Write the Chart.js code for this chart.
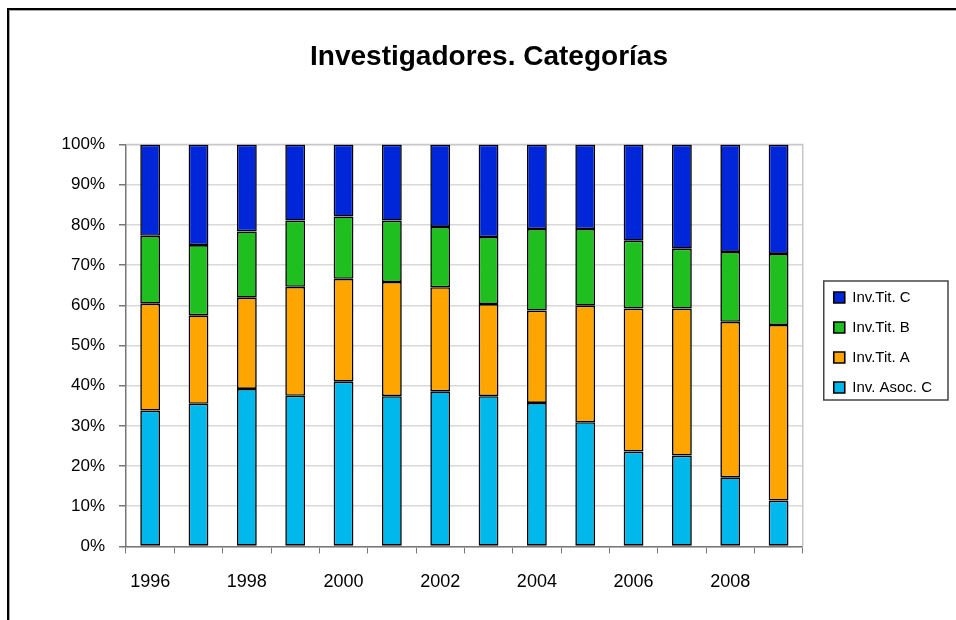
<!DOCTYPE html>
<html>
<head>
<meta charset="utf-8">
<script src="https://cdn.jsdelivr.net/npm/chart.js@4"></script>
<style>
  body { margin: 0; background: #fff; }
  #wrap { position: relative; width: 956px; height: 620px; overflow: hidden; }
  #marco { position: absolute; left: 7px; top: 8px; width: 960px; height: 700px; border-left: 2px solid #000; border-top: 2px solid #000; pointer-events: none; }
  #marco2 { position: absolute; left: 9px; top: 10px; width: 960px; height: 700px; border-left: 1px solid #aaa; border-top: 1px solid #aaa; pointer-events: none; }
</style>
</head>
<body>
<div id="wrap">
  <canvas id="myChart" width="956" height="620"></canvas>
  <div id="marco"></div>
  <div id="marco2"></div>
</div>
<script>
// datos (porcentaje de cada categoria por año)
const anios = ["1996", "1997", "1998", "1999", "2000", "2001", "2002", "2003", "2004", "2005", "2006", "2007", "2008", "2009"];
const invAsocC = [33.8, 35.5, 39.2, 37.5, 41.0, 37.4, 38.6, 37.4, 35.7, 30.9, 23.6, 22.6, 17.2, 11.4];
const invTitA = [26.6, 22.0, 22.7, 27.1, 25.6, 28.4, 25.9, 22.9, 23.0, 29.0, 35.6, 36.6, 38.7, 43.7];
const invTitB = [16.9, 17.5, 16.5, 16.5, 15.5, 15.3, 15.0, 16.7, 20.3, 19.1, 16.9, 14.9, 17.4, 17.7];
const invTitC = [22.7, 25.0, 21.6, 18.9, 17.9, 18.9, 20.5, 23.0, 21.0, 21.0, 23.9, 25.9, 26.7, 27.2];
const ticksY = [0, 10, 20, 30, 40, 50, 60, 70, 80, 90, 100];

const fuente = "'Liberation Sans', Arial, sans-serif";

// borde del area de grafico y cuadro de la leyenda
const bordes = {
  id: "bordes",
  afterLayout(chart) {
    // subir un poco la leyenda
    chart.legend.top -= 3;
    chart.legend.bottom -= 3;
  },
  beforeDatasetsDraw(chart) {
    const { ctx, chartArea: a } = chart;
    ctx.save();
    ctx.strokeStyle = "#c8c8c8";
    ctx.lineWidth = 1.5;
    ctx.beginPath();
    ctx.moveTo(a.left, a.top);
    ctx.lineTo(a.right, a.top);
    ctx.lineTo(a.right, a.bottom);
    ctx.stroke();
    ctx.restore();
  },
  afterDraw(chart) {
    const cajas = chart.legend.legendHitBoxes;
    if (!cajas || !cajas.length) return;
    const x0 = Math.min(...cajas.map(c => c.left)) - 10;
    const x1 = 948;
    const y0 = Math.min(...cajas.map(c => c.top)) - 9;
    const y1 = Math.max(...cajas.map(c => c.top + c.height)) + 5;
    const ctx = chart.ctx;
    ctx.save();
    ctx.strokeStyle = "#444";
    ctx.lineWidth = 1.5;
    ctx.strokeRect(x0, y0, x1 - x0, y1 - y0);
    ctx.restore();
  }
};

function serie(label, data, color) {
  return {
    label,
    data,
    backgroundColor: color,
    borderColor: "#000",
    borderWidth: 1.6,
    borderSkipped: false,
    barPercentage: 0.41,
    categoryPercentage: 1
  };
}

const config = {
  type: "bar",
  data: {
    labels: anios,
    datasets: [
      serie("Inv. Asoc. C", invAsocC, "#00b8ec"),
      serie("Inv.Tit. A", invTitA, "#ffa500"),
      serie("Inv.Tit. B", invTitB, "#1fbf1f"),
      serie("Inv.Tit. C", invTitC, "#0026d9")
    ]
  },
  options: {
    responsive: false,
    animation: false,
    layout: { padding: { left: 36, right: 14, top: 20, bottom: 9 } },
    plugins: {
      title: {
        display: true,
        text: "Investigadores. Categorías",
        color: "#000",
        font: { family: fuente, size: 28, weight: "bold" },
        padding: { top: 20, bottom: 71 }
      },
      legend: {
        position: "right",
        fullSize: false,
        reverse: true,
        labels: {
          color: "#000",
          font: { family: fuente, size: 15 },
          boxWidth: 11,
          boxHeight: 11,
          padding: 15
        }
      },
      tooltip: { enabled: false }
    },
    scales: {
      x: {
        stacked: true,
        offset: true,
        grid: { offset: true, drawOnChartArea: false, drawTicks: true, tickLength: 7, color: "#777" },
        border: { color: "#777", width: 1.5 },
        ticks: {
          autoSkip: false,
          maxRotation: 0,
          color: "#000",
          padding: 18,
          font: { family: fuente, size: 18 },
          callback: (v, i) => (i % 2 === 0 ? anios[i] : "")
        }
      },
      y: {
        stacked: true,
        min: 0,
        max: 100,
        afterBuildTicks: (axis) => { axis.ticks = ticksY.map(v => ({ value: v })); },
        afterFit: (axis) => { axis.width = 90; },
        grid: { color: "#d9d9d9", lineWidth: 1.5, tickLength: 7, tickColor: "#777" },
        border: { color: "#777", width: 1.5 },
        ticks: {
          color: "#000",
          padding: 14,
          font: { family: fuente, size: 17 },
          callback: (v) => v + "%"
        }
      },
      // eje vacio solo para dejar espacio entre grafico y leyenda
      y2: {
        position: "right",
        display: true,
        grid: { display: false },
        border: { display: false },
        ticks: { display: false },
        afterFit: (axis) => { axis.width = 16; }
      }
    }
  },
  plugins: [bordes]
};

new Chart(document.getElementById("myChart"), config);
</script>
</body>
</html>
